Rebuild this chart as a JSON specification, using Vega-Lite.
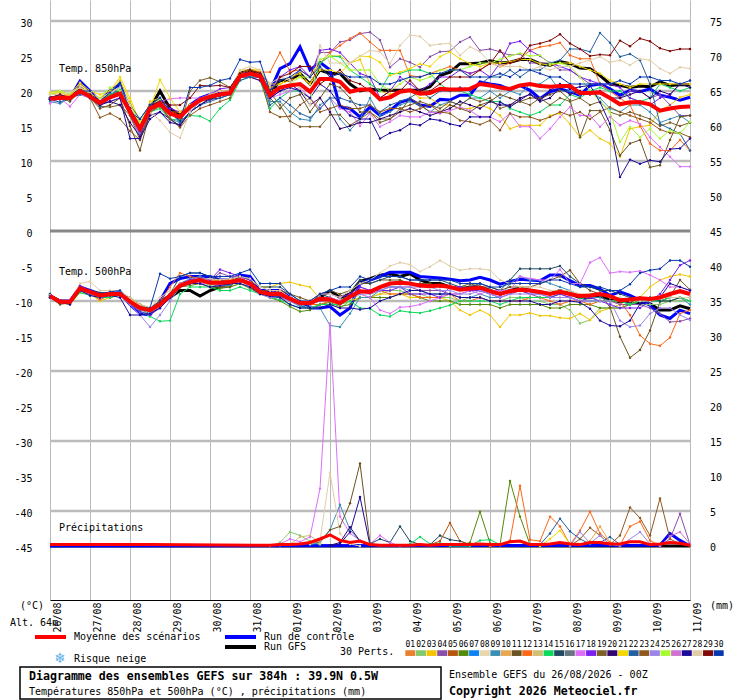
{"$schema":"https://vega.github.io/schema/vega-lite/v6.json","width":640,"height":600,"autosize":"none","padding":{"left":50,"top":0,"right":50,"bottom":100},"background":"white",
"config":{"view":{"stroke":null},"text":{"font":"DejaVu Sans Mono","fontSize":10,"align":"left","baseline":"middle","color":"black"},"axis":{"labelFont":"DejaVu Sans Mono","labelFontSize":10,"labelColor":"black"}},
"datasets":{
"t850":[
{"t":0,"03":19.5,"04":19,"09":18.5,"11":18.8,"12":19,"14":19,"17":18.2,"18":19,"19":19,"20":18.8,"21":19.8,"22":18.8,"23":19,"25":19.5,"27":18.8,"28":19.5,"29":19,"30":19,"ctl":19,"gfs":19,"moy":18.9},
{"t":6,"03":19.8,"04":19.3,"09":18.2,"11":19,"12":19.2,"14":19.2,"17":19,"18":19.5,"19":19.2,"20":19,"21":20,"22":18.4,"23":19.2,"25":20,"27":19,"28":19.5,"29":19.5,"30":18.8,"ctl":19,"gfs":19.2,"moy":19},
{"t":12,"03":19.2,"04":19,"09":19,"11":18.5,"12":19.5,"14":19,"17":17.8,"18":19,"19":19,"20":19,"21":19.5,"22":19,"23":19,"25":19.5,"27":18.8,"28":19.8,"29":19,"30":19,"ctl":19,"gfs":19,"moy":19},
{"t":18,"03":21,"04":20.5,"09":19.5,"11":20,"12":20.5,"14":20,"17":19.5,"18":20,"19":20,"20":20.5,"21":21.2,"22":19.5,"23":19.8,"25":20.5,"27":20,"28":20.5,"29":20,"30":20,"ctl":21.4,"gfs":20.5,"moy":20},
{"t":24,"03":19.8,"04":19,"09":19,"11":19,"12":19.8,"14":19.3,"17":19,"18":19.5,"19":19,"20":19.5,"21":20,"22":19.5,"23":19,"25":19.5,"27":19,"28":19.8,"29":19.5,"30":20,"ctl":20,"gfs":19.3,"moy":19.2},
{"t":30,"03":19,"04":18.5,"09":18,"11":17.5,"12":18.8,"14":18.5,"17":18,"18":18.5,"19":17.8,"20":18.2,"21":19.5,"22":17.8,"23":16.2,"25":19,"27":18,"28":18.8,"29":18.5,"30":18.5,"ctl":18.5,"gfs":18.5,"moy":18.3},
{"t":36,"03":19.8,"04":19.5,"09":19,"11":18,"12":19.5,"14":19.5,"17":18.5,"18":19,"19":17.7,"20":18.5,"21":20,"22":19,"23":16.8,"25":20.5,"27":18.5,"28":19.8,"29":19,"30":19.8,"ctl":20,"gfs":19.3,"moy":19.1},
{"t":42,"03":21.5,"04":20,"09":19.5,"11":19,"12":19.8,"14":20.2,"17":19,"18":19.5,"19":18,"20":18,"21":22,"22":20.8,"23":16,"25":20,"27":19,"28":20.5,"29":19.5,"30":21.2,"ctl":21,"gfs":20,"moy":19.6},
{"t":48,"03":18.5,"04":17.5,"09":16.5,"11":15,"12":18,"14":17,"17":17,"18":17.5,"19":16.5,"20":15.5,"21":19,"22":18,"23":14.3,"25":18,"27":13.2,"28":18,"29":17.5,"30":17,"ctl":17,"gfs":17,"moy":17},
{"t":54,"03":15,"04":14.5,"09":14,"11":11.5,"12":15,"14":15,"17":13.5,"18":14.5,"19":13,"20":13.5,"21":15.5,"22":16,"23":13,"25":15.5,"27":13.2,"28":15,"29":15,"30":16,"ctl":14,"gfs":14.3,"moy":14.6},
{"t":60,"03":18.5,"04":17.5,"09":17,"11":17,"12":17.5,"14":17,"17":17,"18":18,"19":17,"20":16.5,"21":17.5,"22":18,"23":17,"25":18,"27":16,"28":17,"29":18,"30":18,"ctl":17.5,"gfs":17.5,"moy":17.5},
{"t":66,"03":19,"04":18,"09":18,"11":18,"12":18.5,"14":17.5,"17":18.5,"18":19,"19":18,"20":17,"21":21.6,"22":19,"23":17.8,"25":18.8,"27":17,"28":15.8,"29":18.5,"30":19,"ctl":18.5,"gfs":20,"moy":18.2},
{"t":72,"03":17,"04":17,"09":16,"11":16.5,"12":17,"14":16,"17":18.9,"18":17.5,"19":16,"20":16,"21":19,"22":17,"23":16,"25":17,"27":15.5,"28":14.1,"29":18,"30":17,"ctl":17,"gfs":17.5,"moy":16.8},
{"t":78,"03":16.5,"04":16,"09":15.5,"11":16.5,"12":17,"14":15.8,"17":19,"18":17,"19":15,"20":15,"21":17,"22":15.5,"23":14.8,"25":16,"27":15.2,"28":13.3,"29":18,"30":15.8,"ctl":16,"gfs":16.5,"moy":16.3},
{"t":84,"03":18,"04":17.5,"09":17,"11":18,"12":18,"14":16.5,"17":19,"18":18,"19":20,"20":17,"21":18,"22":17,"23":16.5,"25":18,"27":17,"28":17,"29":19,"30":20.5,"ctl":18,"gfs":17.8,"moy":17.7},
{"t":90,"03":18.8,"04":18.5,"09":18.5,"11":18.5,"12":19,"14":16.4,"17":19,"18":19,"19":21.5,"20":18,"21":18.5,"22":18,"23":17.5,"25":18.8,"27":18,"28":18.8,"29":20.8,"30":20.5,"ctl":19,"gfs":18.7,"moy":18.7},
{"t":96,"03":19.5,"04":19,"09":19,"11":19,"12":19.5,"14":15.7,"17":19.5,"18":19.5,"19":21.9,"20":18.8,"21":19,"22":18.5,"23":18,"25":19,"27":19,"28":19.5,"29":20.7,"30":20.8,"ctl":19.5,"gfs":19,"moy":19.2},
{"t":102,"03":20,"04":19.5,"09":19.5,"11":19.3,"12":20,"14":17.5,"17":19.5,"18":20.3,"19":21.3,"20":19,"21":19.5,"22":19,"23":18.5,"25":19.5,"27":19.5,"28":20,"29":20.8,"30":21.5,"ctl":19.7,"gfs":19.5,"moy":19.5},
{"t":108,"03":20,"04":19.8,"09":19.5,"11":20,"12":20,"14":18.7,"17":20,"18":20.5,"19":20.5,"20":19.5,"21":19.5,"22":19.5,"23":19,"25":20,"27":19.8,"28":20,"29":20.5,"30":21.8,"ctl":20,"gfs":20,"moy":19.7},
{"t":114,"03":23,"04":22.5,"09":22,"11":22,"12":22.5,"14":21.5,"17":22,"18":22.5,"19":22.5,"20":22,"21":22.5,"22":21.5,"23":22,"25":22,"27":22,"28":23,"29":22.5,"30":24.5,"ctl":22.5,"gfs":22.5,"moy":22.1},
{"t":120,"03":23,"04":22.5,"09":22,"11":22.5,"12":23,"14":22,"17":22,"18":23,"19":23,"20":22,"21":23,"22":22,"23":22.5,"25":22.5,"27":22.5,"28":23.5,"29":23,"30":24.1,"ctl":22.5,"gfs":23,"moy":22.5},
{"t":126,"03":23,"04":22.5,"09":22,"11":22,"12":22.7,"14":21.5,"17":21.5,"18":22.5,"19":22.5,"20":21.5,"21":23,"22":22,"23":22,"25":22,"27":22,"28":23,"29":22.5,"30":24.2,"ctl":22,"gfs":22.5,"moy":22.1},
{"t":132,"03":20.5,"04":20,"09":18.5,"11":19,"12":22.7,"14":17.5,"17":19,"18":21,"19":19.8,"20":19,"21":21,"22":18,"23":17,"25":20,"27":19,"28":21,"29":19.5,"30":20,"ctl":20,"gfs":19.5,"moy":19.4},
{"t":138,"03":21,"04":22,"09":18.5,"11":17.5,"12":25.5,"14":19,"17":19.5,"18":22,"19":18,"20":20,"21":21,"22":19,"23":16.3,"25":20.5,"27":20,"28":22,"29":22,"30":21.5,"ctl":23.2,"gfs":21.5,"moy":20.5},
{"t":144,"03":21.5,"04":21.5,"09":17,"11":19,"12":22.8,"14":20,"17":20,"18":23,"19":15.7,"20":21,"21":22,"22":18,"23":16.4,"25":21,"27":20.5,"28":21.5,"29":22.5,"30":22,"ctl":23.9,"gfs":21.5,"moy":20.8},
{"t":150,"03":22,"04":23,"09":16,"11":19.5,"12":23,"14":20,"17":20.5,"18":23.5,"19":14.9,"20":20,"21":22.5,"22":16.8,"23":18,"25":22,"27":20,"28":20.5,"29":23.5,"30":23,"ctl":26.3,"gfs":22.5,"moy":21},
{"t":156,"03":21,"04":22,"09":15.8,"11":17,"12":22,"14":19,"17":19,"18":22,"19":14.9,"20":18,"21":21,"22":16.2,"23":19,"25":22,"27":19,"28":18,"29":23.5,"30":22,"ctl":23,"gfs":21,"moy":19.9},
{"t":162,"03":24,"04":25.5,"09":18,"11":19,"12":24,"14":24,"17":17.5,"18":25.8,"19":14.9,"20":19,"21":23,"22":17.5,"23":17,"25":24.5,"27":21,"28":26.5,"29":21,"30":23.5,"ctl":24.1,"gfs":23,"moy":21.7},
{"t":168,"03":25,"04":25.5,"09":19,"11":21,"12":25.5,"14":25,"17":19,"18":26,"19":16.6,"20":17,"21":23,"22":19,"23":17.5,"25":25,"27":20,"28":24,"29":22,"30":22,"ctl":23,"gfs":22.5,"moy":21.7},
{"t":174,"03":25,"04":27,"09":16,"11":20.5,"12":26.5,"14":24.9,"17":17.5,"18":25.5,"19":16.6,"20":14.6,"21":22.5,"22":19,"23":18,"25":24,"27":18,"28":24,"29":23,"30":22.5,"ctl":17.7,"gfs":22.5,"moy":21.3},
{"t":180,"03":24,"04":27.3,"09":14.4,"11":19,"12":27.5,"14":23,"17":17,"18":24,"19":15.1,"20":15,"21":24,"22":18.5,"23":17.5,"25":23,"27":16.5,"28":24,"29":21.5,"30":22,"ctl":17.5,"gfs":21,"moy":19.9},
{"t":186,"03":24.5,"04":28.2,"09":16,"11":17,"12":28.3,"14":22,"17":15,"18":22.5,"19":16,"20":15.5,"21":25,"22":18,"23":17.5,"25":23,"27":16,"28":25,"29":21,"30":22,"ctl":16.3,"gfs":20,"moy":20.2},
{"t":192,"03":21,"04":28.4,"09":19,"11":17,"12":27,"14":21,"17":16.8,"18":22,"19":17,"20":15.5,"21":24.9,"22":18,"23":18,"25":23,"27":16,"28":25.8,"29":20,"30":22,"ctl":17.7,"gfs":20.3,"moy":20.2},
{"t":198,"03":20,"04":27.3,"09":16.5,"11":15.5,"12":25.8,"14":20,"17":14.9,"18":19,"19":16,"20":16,"21":24.1,"22":17,"23":17,"25":21,"27":13.2,"28":25.6,"29":19,"30":21,"ctl":16.5,"gfs":20.1,"moy":18.8},
{"t":204,"03":19.5,"04":23.4,"09":17,"11":16,"12":25.8,"14":22.5,"17":15.6,"18":20,"19":16,"20":16.5,"21":22.2,"22":18,"23":17.5,"25":20,"27":14,"28":23.9,"29":20,"30":21,"ctl":17.2,"gfs":20.1,"moy":19.1},
{"t":210,"03":20,"04":24.6,"09":18,"11":17,"12":25.8,"14":22.5,"17":16.5,"18":22,"19":17.5,"20":17,"21":22.7,"22":18.5,"23":17.5,"25":21,"27":14.4,"28":26.5,"29":20,"30":21.5,"ctl":18.4,"gfs":20.1,"moy":19.9},
{"t":216,"03":20,"04":24.1,"09":18.5,"11":19,"12":22.2,"14":23,"17":16.3,"18":21,"19":18,"20":17.5,"21":23.2,"22":19,"23":17,"25":22,"27":15.3,"28":28,"29":21.5,"30":22,"ctl":18.8,"gfs":20.1,"moy":20.1},
{"t":222,"03":19,"04":23.4,"09":18,"11":18,"12":22,"14":23,"17":16.3,"18":20,"19":18.5,"20":17,"21":23.9,"22":20,"23":17.5,"25":21.5,"27":15.1,"28":27.8,"29":20,"30":22,"ctl":18,"gfs":20.1,"moy":19.6},
{"t":228,"03":19,"04":24.9,"09":17,"11":17,"12":22.5,"14":22.5,"17":17,"18":21,"19":18,"20":16.5,"21":23.5,"22":19,"23":18,"25":22,"27":16,"28":26.5,"29":20,"30":22.5,"ctl":17.8,"gfs":20.6,"moy":19.7},
{"t":234,"03":18,"04":25.6,"09":18,"11":17,"12":23,"14":21,"17":16.8,"18":22,"19":17.5,"20":17,"21":24.9,"22":20,"23":17,"25":23,"27":15.8,"28":26.7,"29":21,"30":22.5,"ctl":18.8,"gfs":22.2,"moy":20.3},
{"t":240,"03":18,"04":25.7,"09":18.5,"11":18,"12":23.5,"14":20,"17":17.2,"18":22,"19":18.5,"20":17.5,"21":25.6,"22":20,"23":16.8,"25":23,"27":15.3,"28":26.8,"29":22,"30":23,"ctl":18.7,"gfs":22.7,"moy":20.2},
{"t":246,"03":17.5,"04":27,"09":18,"11":17.5,"12":23,"14":20,"17":17.7,"18":23,"19":18,"20":18.5,"21":24.6,"22":20.5,"23":15.8,"25":23,"27":15,"28":25.1,"29":22,"30":23,"ctl":19.4,"gfs":23.9,"moy":20.2},
{"t":252,"03":17.5,"04":27.7,"09":19,"11":17,"12":22.5,"14":19.5,"17":17.2,"18":22.5,"19":19,"20":18,"21":23.9,"22":20,"23":15.6,"25":23.5,"27":16.3,"28":26.3,"29":22,"30":22,"ctl":19.4,"gfs":23.9,"moy":20.3},
{"t":258,"03":18,"04":25.8,"09":19,"11":18,"12":23,"14":19,"17":16.3,"18":23,"19":18.5,"20":17.5,"21":23.5,"22":21,"23":15.2,"25":24,"27":16.3,"28":25.6,"29":23,"30":22,"ctl":21.3,"gfs":24,"moy":21},
{"t":264,"03":17.5,"04":26,"09":20,"11":18.5,"12":24,"14":18.5,"17":16.3,"18":22,"19":19,"20":18.5,"21":24,"22":22,"23":15.8,"25":24,"27":16.3,"28":24,"29":23.9,"30":22,"ctl":21,"gfs":24.3,"moy":20.8},
{"t":270,"03":16.5,"04":25.6,"09":19,"11":19.5,"12":23.5,"14":18.5,"17":15.6,"18":24,"19":17.5,"20":18,"21":24,"22":22,"23":14.4,"25":24.5,"27":18.4,"28":23.5,"29":25.8,"30":22.5,"ctl":20.8,"gfs":24,"moy":20.5},
{"t":276,"03":14.6,"04":25.1,"09":20,"11":19,"12":24,"14":17.5,"17":16.8,"18":26.8,"19":18,"20":18,"21":24.2,"22":23,"23":16.8,"25":25,"27":17.7,"28":23.5,"29":24,"30":22,"ctl":20.2,"gfs":24.1,"moy":20.3},
{"t":282,"03":15.1,"04":25.3,"09":19.5,"11":18.5,"12":24.6,"14":17,"17":14.9,"18":27.1,"19":18.5,"20":19,"21":24.5,"22":22,"23":16.3,"25":25.4,"27":18.7,"28":23.5,"29":24.5,"30":23,"ctl":20.8,"gfs":24.5,"moy":20.8},
{"t":288,"03":15.1,"04":24,"09":21,"11":19,"12":25.8,"14":16.5,"17":14.9,"18":25.8,"19":18,"20":19.5,"21":24.5,"22":23,"23":16.3,"25":25,"27":19.6,"28":23,"29":26.5,"30":23,"ctl":20.1,"gfs":24.5,"moy":21},
{"t":294,"03":15.1,"04":24,"09":21,"11":19,"12":26.3,"14":17,"17":13.2,"18":25,"19":19,"20":18.5,"21":23.9,"22":23,"23":15.8,"25":25.1,"27":18.7,"28":23.5,"29":26.8,"30":22.5,"ctl":18.9,"gfs":23.9,"moy":20.7},
{"t":300,"03":16.5,"04":24,"09":22,"11":19.5,"12":26.5,"14":18,"17":14.6,"18":24,"19":18,"20":19,"21":23.7,"22":24,"23":16.3,"25":23.9,"27":20.1,"28":23,"29":27.2,"30":22,"ctl":19.9,"gfs":23.7,"moy":20.6},
{"t":306,"03":16.8,"04":23,"09":20,"11":20,"12":26.9,"14":18,"17":16.3,"18":23.5,"19":19,"20":20.5,"21":24,"22":24.4,"23":17,"25":24,"27":21,"28":23.5,"29":28.1,"30":22,"ctl":20.3,"gfs":24.2,"moy":20.7},
{"t":312,"03":15.3,"04":23,"09":20,"11":18.7,"12":25.1,"14":19.5,"17":17.7,"18":23,"19":18.5,"20":19.5,"21":24,"22":26,"23":16.5,"25":23.5,"27":20.3,"28":23.5,"29":26.8,"30":21,"ctl":19.9,"gfs":23.9,"moy":20.7},
{"t":318,"03":13.4,"04":22,"09":19.5,"11":13.4,"12":24.6,"14":19,"17":16.5,"18":22,"19":19,"20":20,"21":23.5,"22":26,"23":17,"25":22,"27":20.6,"28":24,"29":26,"30":21,"ctl":19.4,"gfs":23.3,"moy":19.7},
{"t":324,"03":14.4,"04":21,"09":20,"11":17.2,"12":24.6,"14":20,"17":16.5,"18":21.5,"19":18,"20":19.5,"21":23,"22":25.6,"23":16,"25":20,"27":20.8,"28":24.4,"29":25,"30":21,"ctl":20.8,"gfs":23.2,"moy":19.7},
{"t":330,"03":13.2,"04":21,"09":19,"11":17.2,"12":21,"14":20.5,"17":14.9,"18":21,"19":18.5,"20":20,"21":22.5,"22":28.3,"23":17,"25":18.5,"27":18.4,"28":24.9,"29":25.2,"30":21,"ctl":21,"gfs":22.2,"moy":19.8},
{"t":336,"03":12.5,"04":20,"09":17.5,"11":14.4,"12":20,"14":20,"17":16.3,"18":21,"19":17,"20":19,"21":21.5,"22":26.9,"23":17.7,"25":17,"27":15.3,"28":24.1,"29":25.1,"30":21,"ctl":20.3,"gfs":21,"moy":19},
{"t":342,"03":10.6,"04":19,"09":17,"11":10.8,"12":19,"14":20,"17":15.1,"18":20.5,"19":16.5,"20":19,"21":21,"22":24.9,"23":17,"25":12.7,"27":7.7,"28":24.4,"29":27.2,"30":21.5,"ctl":19.4,"gfs":20.8,"moy":18.1},
{"t":348,"03":14.6,"04":20,"09":18,"11":12.5,"12":18,"14":19,"17":15.8,"18":19,"19":17,"20":19.5,"21":20.5,"22":25.3,"23":16.5,"25":14.9,"27":10.2,"28":23.7,"29":26.4,"30":21,"ctl":20.1,"gfs":20.5,"moy":18.4},
{"t":354,"03":14.9,"04":20,"09":18,"11":13,"12":15,"14":18.5,"17":15.3,"18":18.5,"19":16.5,"20":20,"21":21,"22":24.4,"23":16,"25":13.4,"27":9.6,"28":24.6,"29":27.5,"30":22,"ctl":19.9,"gfs":20.7,"moy":18.4},
{"t":360,"03":15.1,"04":19,"09":17,"11":9.1,"12":12.5,"14":19,"17":13.4,"18":18,"19":16,"20":19,"21":21,"22":21,"23":15.5,"25":14.6,"27":10.1,"28":24.4,"29":27.1,"30":22,"ctl":20.3,"gfs":20.6,"moy":18.1},
{"t":366,"03":17.2,"04":19.5,"09":15.5,"11":9.4,"12":11.5,"14":21,"17":12,"18":19,"19":15,"20":20,"21":21,"22":15.3,"23":14.5,"25":13.2,"27":9.9,"28":23.2,"29":26.1,"30":21.5,"ctl":19.4,"gfs":21.3,"moy":17.2},
{"t":372,"03":18,"04":18,"09":16,"11":13,"12":11.5,"14":20.5,"17":10.6,"18":19.5,"19":15.5,"20":19.5,"21":21,"22":14.6,"23":14,"25":14.4,"27":11.7,"28":22.5,"29":25.7,"30":21.5,"ctl":19.1,"gfs":20.8,"moy":17.5},
{"t":378,"03":19.1,"04":16.5,"09":16.5,"11":16.3,"12":13,"14":20,"17":9.2,"18":21,"19":15,"20":21,"21":21,"22":13.9,"23":14,"25":13.9,"27":11.8,"28":23.4,"29":26,"30":21,"ctl":18.7,"gfs":20.9,"moy":17.7},
{"t":384,"03":19.5,"04":16.5,"09":15.5,"11":16.5,"12":11.5,"14":20.5,"17":9.2,"18":21,"19":15.5,"20":20.5,"21":21,"22":11.5,"23":13.4,"25":15.6,"27":13.2,"28":23.2,"29":26,"30":21.5,"ctl":19.1,"gfs":20.9,"moy":17.8}
],
"t500":[
{"t":0,"02":-9.2,"03":-9.5,"04":-9.5,"06":-9,"09":-9,"11":-9.5,"12":-9.2,"14":-9.5,"15":-9,"17":-9.2,"18":-9.5,"24":-9.3,"27":-9.5,"28":-9.2,"30":-9.3,"ctl":-9.3,"gfs":-9.3,"moy":-9.3},
{"t":6,"02":-10,"03":-10.3,"04":-10,"06":-10.2,"09":-10,"11":-10.5,"12":-10,"14":-10.2,"15":-10,"17":-10,"18":-10,"24":-10,"27":-10.2,"28":-10,"30":-10,"ctl":-10,"gfs":-10,"moy":-10.1},
{"t":12,"02":-10.2,"03":-10.5,"04":-10,"06":-10.3,"09":-10.2,"11":-10.2,"12":-10,"14":-10.3,"15":-10,"17":-10.2,"18":-10,"24":-10.2,"27":-10.5,"28":-10,"30":-10,"ctl":-10,"gfs":-10.2,"moy":-10.1},
{"t":18,"02":-8.5,"03":-8.8,"04":-8,"06":-8.5,"09":-8.5,"11":-8.5,"12":-8.2,"14":-8.8,"15":-8,"17":-8.5,"18":-7.8,"24":-8.5,"27":-8.5,"28":-7.5,"30":-8,"ctl":-8,"gfs":-8.3,"moy":-8.2},
{"t":24,"02":-8.8,"03":-9,"04":-8.8,"06":-9,"09":-9,"11":-9,"12":-9,"14":-9.2,"15":-8.5,"17":-9,"18":-8.5,"24":-9,"27":-9.2,"28":-7.2,"30":-8.5,"ctl":-8.5,"gfs":-8.8,"moy":-8.7},
{"t":30,"02":-9.5,"03":-10,"04":-9,"06":-9.5,"09":-9.5,"11":-9.5,"12":-9.8,"14":-9.5,"15":-8.8,"17":-9.5,"18":-9.5,"24":-9.2,"27":-9.5,"28":-8.5,"30":-9,"ctl":-9,"gfs":-9.2,"moy":-9.2},
{"t":36,"02":-9,"03":-9.5,"04":-9,"06":-9.2,"09":-9,"11":-9.5,"12":-9.2,"14":-9.5,"15":-8.8,"17":-9.2,"18":-9,"24":-9,"27":-9.2,"28":-8.5,"30":-8.7,"ctl":-9,"gfs":-9,"moy":-9},
{"t":42,"02":-9.2,"03":-9.2,"04":-9,"06":-9,"09":-9,"11":-9,"12":-9.2,"14":-9.2,"15":-8.8,"17":-9,"18":-9,"24":-9.2,"27":-9.5,"28":-8.5,"30":-8.5,"ctl":-8.8,"gfs":-9,"moy":-9},
{"t":48,"02":-10.5,"03":-9.8,"04":-10,"06":-10,"09":-10.5,"11":-9.5,"12":-10.2,"14":-10.2,"15":-10,"17":-10,"18":-10.5,"24":-10.5,"27":-12,"28":-9.5,"30":-10,"ctl":-10.5,"gfs":-10.2,"moy":-10.1},
{"t":54,"02":-11.5,"03":-10.5,"04":-11,"06":-11,"09":-11.2,"11":-10.5,"12":-11,"14":-11.5,"15":-10.8,"17":-11,"18":-11.5,"24":-12,"27":-12,"28":-10.5,"30":-11,"ctl":-11.8,"gfs":-11,"moy":-11},
{"t":60,"02":-11.8,"03":-11,"04":-11.5,"06":-11.5,"09":-11.8,"11":-11,"12":-11,"14":-12.2,"15":-11,"17":-11.5,"18":-12,"24":-13.7,"27":-11.8,"28":-11,"30":-11,"ctl":-12,"gfs":-11.3,"moy":-11.3},
{"t":66,"02":-11,"03":-10,"04":-10,"06":-11,"09":-10.5,"11":-10.5,"12":-10,"14":-12.9,"15":-10,"17":-11,"18":-11,"24":-12,"27":-11,"28":-9.5,"30":-6.1,"ctl":-10,"gfs":-10.3,"moy":-10.5},
{"t":72,"02":-9.5,"03":-9,"04":-9,"06":-9.5,"09":-9,"11":-9,"12":-8,"14":-12.8,"15":-9,"17":-9.5,"18":-9.5,"24":-10,"27":-9.5,"28":-8.5,"30":-6.8,"ctl":-7.5,"gfs":-9.5,"moy":-9.2},
{"t":78,"02":-8,"03":-7.5,"04":-7.8,"06":-8,"09":-7.5,"11":-8,"12":-6,"14":-9,"15":-6.5,"17":-8,"18":-7.5,"24":-8,"27":-8,"28":-7.5,"30":-6.5,"ctl":-6.8,"gfs":-8.5,"moy":-7.8},
{"t":84,"02":-7.5,"03":-7.2,"04":-7,"06":-7.8,"09":-6.8,"11":-7.5,"12":-6.5,"14":-8,"15":-6,"17":-7.5,"18":-7,"24":-7.5,"27":-7.5,"28":-7.2,"30":-6,"ctl":-6.5,"gfs":-8.5,"moy":-7.3},
{"t":90,"02":-7.2,"03":-6.8,"04":-6.5,"06":-7.5,"09":-6.5,"11":-7.5,"12":-6.8,"14":-8,"15":-6,"17":-7.5,"18":-6.8,"24":-7.2,"27":-7.5,"28":-7,"30":-6,"ctl":-6.5,"gfs":-9.3,"moy":-7},
{"t":96,"02":-7.8,"03":-7.2,"04":-7,"06":-8,"09":-7,"11":-7.5,"12":-7,"14":-8,"15":-6.5,"17":-7.5,"18":-7,"24":-7.5,"27":-8,"28":-6.8,"30":-6.5,"ctl":-6.5,"gfs":-8.5,"moy":-7.4},
{"t":102,"02":-8,"03":-7,"04":-6,"06":-8.2,"09":-7.8,"11":-8,"12":-7,"14":-8.5,"15":-7,"17":-7.8,"18":-5.5,"24":-7.5,"27":-7.8,"28":-7,"30":-6.5,"ctl":-7,"gfs":-8,"moy":-7.4},
{"t":108,"02":-8,"03":-7,"04":-6.5,"06":-8,"09":-7.8,"11":-8,"12":-7,"14":-8.5,"15":-7.5,"17":-7.5,"18":-6,"24":-7.5,"27":-7.5,"28":-6.8,"30":-6.5,"ctl":-7,"gfs":-7.5,"moy":-7.3},
{"t":114,"02":-7.5,"03":-6.5,"04":-6.5,"06":-7.5,"09":-7,"11":-6.5,"12":-7,"14":-8,"15":-6.5,"17":-7,"18":-6.5,"24":-7.2,"27":-7.5,"28":-6.5,"30":-6,"ctl":-6.3,"gfs":-7,"moy":-7},
{"t":120,"02":-8,"03":-7,"04":-7.5,"06":-8.2,"09":-8,"11":-7,"12":-7.5,"14":-8.5,"15":-6.8,"17":-8,"18":-7,"24":-7.5,"27":-8,"28":-6.8,"30":-5.5,"ctl":-6.5,"gfs":-7.5,"moy":-7.5},
{"t":126,"02":-8.5,"03":-8,"04":-8.5,"06":-9,"09":-9,"11":-8.5,"12":-8.5,"14":-9,"15":-8,"17":-9,"18":-8.5,"24":-8.5,"27":-9,"28":-8,"30":-7.5,"ctl":-8.5,"gfs":-8.5,"moy":-8.7},
{"t":132,"02":-9.5,"03":-8,"04":-8.5,"06":-9.5,"09":-9.5,"11":-8.5,"12":-9,"14":-9.5,"15":-8,"17":-9.5,"18":-9,"24":-9.5,"27":-9.3,"28":-8.5,"30":-7.5,"ctl":-8.5,"gfs":-9,"moy":-9},
{"t":138,"02":-9.5,"03":-7.5,"04":-9,"06":-10,"09":-9.5,"11":-8.5,"12":-8.5,"14":-9.8,"15":-8,"17":-9.5,"18":-9,"24":-9.5,"27":-9.5,"28":-8.5,"30":-7.5,"ctl":-8.5,"gfs":-9.2,"moy":-9},
{"t":144,"02":-10,"03":-7.3,"04":-10,"06":-10.8,"09":-10,"11":-9,"12":-9.5,"14":-10.5,"15":-9,"17":-10,"18":-10,"24":-10,"27":-10.5,"28":-9.5,"30":-9,"ctl":-9.5,"gfs":-9.7,"moy":-9.7},
{"t":150,"02":-10.5,"03":-7.7,"04":-10.5,"06":-11.5,"09":-10.8,"11":-9.5,"12":-10,"14":-11,"15":-10,"17":-10.5,"18":-10.5,"24":-10.5,"27":-11,"28":-10,"30":-10,"ctl":-10.5,"gfs":-10.3,"moy":-10.3},
{"t":156,"02":-11,"03":-8,"04":-10.5,"06":-11.3,"09":-11,"11":-10,"12":-10.5,"14":-11,"15":-10.5,"17":-10.5,"18":-10,"24":-10.5,"27":-11,"28":-10,"30":-10,"ctl":-11,"gfs":-10.5,"moy":-10.3},
{"t":162,"02":-10.5,"03":-9.7,"04":-10,"06":-10.5,"09":-11,"11":-9,"12":-10.5,"14":-10.5,"15":-9,"17":-9.5,"18":-9,"24":-9.5,"27":-11,"28":-9,"30":-9,"ctl":-11,"gfs":-9.5,"moy":-9.7},
{"t":168,"02":-10.5,"03":-10,"04":-10,"06":-10.2,"09":-13.5,"11":-8.5,"12":-10,"14":-10.5,"15":-9.5,"17":-9.5,"18":-9,"24":-10,"27":-10.5,"28":-9,"30":-8.5,"ctl":-10.8,"gfs":-8.5,"moy":-9.8},
{"t":174,"02":-11,"03":-10.5,"04":-10.5,"06":-10.8,"09":-13.7,"11":-9,"12":-10,"14":-10.5,"15":-10,"17":-10,"18":-9.5,"24":-10.5,"27":-11,"28":-9.5,"30":-8,"ctl":-12,"gfs":-9.5,"moy":-10.3},
{"t":180,"02":-10,"03":-10,"04":-9.5,"06":-10.5,"09":-11.8,"11":-8.5,"12":-9.5,"14":-10,"15":-9,"17":-9.5,"18":-9,"24":-9.5,"27":-11,"28":-8.5,"30":-8,"ctl":-11,"gfs":-9,"moy":-9.4},
{"t":186,"02":-9,"03":-9.5,"04":-8,"06":-9.5,"09":-9.5,"11":-7.5,"12":-8.5,"14":-11,"15":-7,"17":-9,"18":-8,"24":-9,"27":-11.2,"28":-7.5,"30":-6.5,"ctl":-7.5,"gfs":-7.2,"moy":-8.6},
{"t":192,"02":-9.5,"03":-9.5,"04":-8.5,"06":-9.5,"09":-9.5,"11":-7.5,"12":-9,"14":-11.1,"15":-7.5,"17":-9.5,"18":-8.5,"24":-9,"27":-11,"28":-7,"30":-7,"ctl":-7,"gfs":-6.8,"moy":-8.7},
{"t":198,"02":-9,"03":-9,"04":-8,"06":-9.5,"09":-8.5,"11":-7,"12":-8.5,"14":-12,"15":-7,"17":-11.3,"18":-8.5,"24":-8.5,"27":-10,"28":-6,"30":-6.5,"ctl":-6.5,"gfs":-6.3,"moy":-8},
{"t":204,"02":-8.5,"03":-9,"04":-8,"06":-9.5,"09":-8,"11":-7,"12":-9,"14":-12.2,"15":-6.5,"17":-11.8,"18":-8.5,"24":-8,"27":-9.5,"28":-5,"30":-6.5,"ctl":-5.9,"gfs":-6.1,"moy":-7.5},
{"t":210,"02":-8.5,"03":-9,"04":-8,"06":-9,"09":-8,"11":-7,"12":-9,"14":-11.4,"15":-6.5,"17":-10.9,"18":-8,"24":-8,"27":-9,"28":-4.5,"30":-6.5,"ctl":-5.9,"gfs":-6.5,"moy":-7.4},
{"t":216,"02":-9,"03":-9.5,"04":-8,"06":-9,"09":-8.5,"11":-7.5,"12":-9,"14":-11.6,"15":-7,"17":-10.8,"18":-9,"24":-8,"27":-8.5,"28":-4.8,"30":-7,"ctl":-5.9,"gfs":-6.1,"moy":-7.5},
{"t":222,"02":-9,"03":-9.5,"04":-8.5,"06":-9.5,"09":-8.5,"11":-7.5,"12":-9.5,"14":-11.7,"15":-7,"17":-10.5,"18":-9,"24":-8,"27":-8.5,"28":-5.8,"30":-7,"ctl":-6.5,"gfs":-7,"moy":-7.8},
{"t":228,"02":-9.5,"03":-9.5,"04":-8.5,"06":-10,"09":-9,"11":-7.5,"12":-9.5,"14":-11.4,"15":-7,"17":-10,"18":-9,"24":-8,"27":-9,"28":-5.1,"30":-7,"ctl":-6.6,"gfs":-7.5,"moy":-7.9},
{"t":234,"02":-9.5,"03":-9.5,"04":-8.5,"06":-10,"09":-9,"11":-8,"12":-9.5,"14":-11,"15":-7,"17":-9.5,"18":-9.5,"24":-8.5,"27":-9,"28":-4.2,"30":-7,"ctl":-6.7,"gfs":-7.5,"moy":-7.8},
{"t":240,"02":-9.5,"03":-10,"04":-9,"06":-10,"09":-9,"11":-8,"12":-9,"14":-10.6,"15":-7.5,"17":-9,"18":-8,"24":-8.5,"27":-9,"28":-5,"30":-7,"ctl":-6.9,"gfs":-8,"moy":-8},
{"t":246,"02":-10,"03":-11.3,"04":-9,"06":-10.5,"09":-9.5,"11":-8,"12":-10,"14":-10,"15":-8,"17":-9,"18":-8,"24":-9,"27":-9.5,"28":-5.6,"30":-7.5,"ctl":-7.1,"gfs":-8.3,"moy":-8.4},
{"t":252,"02":-9.5,"03":-12,"04":-8.5,"06":-10.5,"09":-9.5,"11":-7.5,"12":-10,"14":-10,"15":-8,"17":-8.5,"18":-8.5,"24":-9,"27":-9.5,"28":-5.4,"30":-7.5,"ctl":-7,"gfs":-8,"moy":-8.2},
{"t":258,"02":-9.5,"03":-11.3,"04":-8.5,"06":-10.5,"09":-9,"11":-8,"12":-9.5,"14":-10,"15":-7.5,"17":-9,"18":-8.5,"24":-8.5,"27":-9.5,"28":-5.4,"30":-7.5,"ctl":-6.6,"gfs":-8,"moy":-8.1},
{"t":264,"02":-10,"03":-12,"04":-9,"06":-10.5,"09":-9.5,"11":-8,"12":-10,"14":-10,"15":-8,"17":-8.5,"18":-9,"24":-9,"27":-10,"28":-5.6,"30":-8,"ctl":-7,"gfs":-8.5,"moy":-8.6},
{"t":270,"02":-10,"03":-13.7,"04":-9,"06":-11,"09":-9.5,"11":-8.5,"12":-10,"14":-10.5,"15":-8.5,"17":-8.5,"18":-9.5,"24":-9.5,"27":-10,"28":-7,"30":-8,"ctl":-7.6,"gfs":-9,"moy":-9},
{"t":276,"02":-9.5,"03":-12,"04":-8.5,"06":-10.5,"09":-7.5,"11":-8,"12":-10,"14":-10,"15":-7,"17":-8.5,"18":-9,"24":-9,"27":-10,"28":-7.5,"30":-7.5,"ctl":-7.2,"gfs":-8.5,"moy":-8.6},
{"t":282,"02":-9.5,"03":-12,"04":-8.5,"06":-10.5,"09":-6.5,"11":-8,"12":-10,"14":-9.5,"15":-5.4,"17":-6.5,"18":-8.5,"24":-9,"27":-10,"28":-8,"30":-7.5,"ctl":-6.9,"gfs":-8.2,"moy":-8.4},
{"t":288,"02":-10,"03":-11.7,"04":-9,"06":-10.5,"09":-7,"11":-8,"12":-9.5,"14":-9.5,"15":-5.4,"17":-6.8,"18":-9,"24":-9,"27":-10,"28":-8,"30":-7.5,"ctl":-7,"gfs":-8.5,"moy":-8.5},
{"t":294,"02":-10,"03":-12.1,"04":-9.5,"06":-10.5,"09":-7,"11":-7.5,"12":-9.5,"14":-9.5,"15":-5.4,"17":-7,"18":-9,"24":-9,"27":-10.5,"28":-8,"30":-7.5,"ctl":-7.1,"gfs":-8.7,"moy":-8.7},
{"t":300,"02":-10.5,"03":-12.1,"04":-9.5,"06":-11,"09":-7.5,"11":-7,"12":-10,"14":-9.5,"15":-5.4,"17":-7,"18":-9.5,"24":-9.5,"27":-10.5,"28":-8.5,"30":-7,"ctl":-6.3,"gfs":-9,"moy":-9},
{"t":306,"02":-10.5,"03":-12.4,"04":-9,"06":-11,"09":-8,"11":-6.5,"12":-10.5,"14":-9,"15":-5,"17":-5.5,"18":-9,"24":-9.5,"27":-10,"28":-8.5,"30":-7,"ctl":-6.3,"gfs":-8.5,"moy":-8.7},
{"t":312,"02":-11.3,"03":-12.5,"04":-9.5,"06":-10.5,"09":-8.5,"11":-5.6,"12":-10,"14":-9,"15":-6.5,"17":-7.5,"18":-9.5,"24":-9.5,"27":-10,"28":-8.5,"30":-7.5,"ctl":-7.1,"gfs":-9,"moy":-9},
{"t":318,"02":-13.2,"03":-11.8,"04":-10,"06":-10.5,"09":-9.5,"11":-7.5,"12":-10,"14":-9.5,"15":-7.5,"17":-7.5,"18":-10,"24":-10,"27":-10.2,"28":-9,"30":-8,"ctl":-7.8,"gfs":-9.5,"moy":-9.3},
{"t":324,"02":-12.7,"03":-12.7,"04":-10,"06":-10.5,"09":-9.5,"11":-8.5,"12":-10.5,"14":-10,"15":-8,"17":-4.5,"18":-9.5,"24":-10,"27":-11.1,"28":-9,"30":-8,"ctl":-7.8,"gfs":-9.5,"moy":-9.2},
{"t":330,"02":-11,"03":-11.5,"04":-10,"06":-11,"09":-9.5,"11":-9,"12":-10,"14":-10,"15":-8.5,"17":-3.8,"18":-10,"24":-10,"27":-12.8,"28":-9,"30":-8,"ctl":-8.3,"gfs":-9.3,"moy":-9},
{"t":336,"02":-11,"03":-11,"04":-10,"06":-11,"09":-10,"11":-10.9,"12":-10,"14":-10,"15":-8.5,"17":-6,"18":-10.5,"24":-10,"27":-13.5,"28":-9.5,"30":-8.5,"ctl":-9.2,"gfs":-9.8,"moy":-9.3},
{"t":342,"02":-11,"03":-10.5,"04":-10.5,"06":-11,"09":-10,"11":-15.1,"12":-10,"14":-10,"15":-9,"17":-5.8,"18":-11,"24":-12.8,"27":-13.6,"28":-9.5,"30":-8.5,"ctl":-8.7,"gfs":-10.1,"moy":-9.9},
{"t":348,"02":-10.5,"03":-10.5,"04":-10.5,"06":-10.5,"09":-10.5,"11":-18.1,"12":-12,"14":-10.5,"15":-9.5,"17":-5.9,"18":-11,"24":-13.7,"27":-12.8,"28":-10,"30":-7.6,"ctl":-9.2,"gfs":-10,"moy":-9.8},
{"t":354,"02":-10.5,"03":-9.5,"04":-10.5,"06":-10,"09":-10,"11":-17,"12":-14.9,"14":-10,"15":-9.5,"17":-5.7,"18":-11,"24":-13.5,"27":-10.4,"28":-10,"30":-6,"ctl":-9.9,"gfs":-10.3,"moy":-9.6},
{"t":360,"02":-10.5,"03":-8,"04":-11,"06":-10,"09":-10,"11":-14.2,"12":-16.1,"14":-10,"15":-9.5,"17":-6.3,"18":-10,"24":-11.8,"27":-10,"28":-10,"30":-5.6,"ctl":-10.6,"gfs":-10.4,"moy":-9.7},
{"t":366,"02":-10.5,"03":-7,"04":-11.8,"06":-10,"09":-10,"11":-10.1,"12":-16.4,"14":-10,"15":-10,"17":-7,"18":-9,"24":-11,"27":-9.5,"28":-9.5,"30":-5.4,"ctl":-12,"gfs":-11.3,"moy":-9.5},
{"t":372,"02":-10,"03":-6.5,"04":-13,"06":-10,"09":-9.5,"11":-9.4,"12":-15.2,"14":-9.5,"15":-10,"17":-8,"18":-7,"24":-11,"27":-7.5,"28":-9.5,"30":-4.2,"ctl":-12.5,"gfs":-11.3,"moy":-9},
{"t":378,"02":-10,"03":-6.2,"04":-12.9,"06":-9.5,"09":-9.5,"11":-7,"12":-11.8,"14":-9.5,"15":-9.5,"17":-8,"18":-4.9,"24":-12,"27":-8,"28":-9.5,"30":-4.2,"ctl":-11.3,"gfs":-10.7,"moy":-8.6},
{"t":384,"02":-10,"03":-6.5,"04":-12.5,"06":-10,"09":-10.5,"11":-8.4,"12":-11.3,"14":-10,"15":-9.5,"17":-8.5,"18":-4.2,"24":-12.7,"27":-8.5,"28":-9.5,"30":-5.1,"ctl":-11.8,"gfs":-11.1,"moy":-9}
],
"prec":[
{"t":0,"moy":-44.8,"ctl":-45,"gfs":-45},{"t":60,"moy":-44.8},{"t":126,"moy":-44.9},
{"t":132,"02":-45,"moy":-44.9},
{"t":138,"02":-44.5,"13":-44.9,"17":-44.7,"moy":-44.8},
{"t":144,"02":-43,"13":-44.8,"17":-44,"moy":-44.8},
{"t":150,"02":-43.5,"13":-43.7,"17":-44.4,"moy":-44.7},
{"t":156,"02":-44.3,"09":-44.8,"11":-44.6,"13":-43.5,"17":-43.7,"28":-44.7,"moy":-44.5},
{"t":162,"02":-44.8,"09":-44.5,"11":-44.4,"13":-44.6,"17":-36.8,"28":-44.2,"moy":-44},
{"t":168,"09":-42.7,"11":-42.7,"17":-13.2,"20":-44.9,"27":-45,"28":-34.5,"moy":-43.4},
{"t":174,"09":-39.1,"11":-42.2,"17":-40.8,"20":-44.5,"27":-44.7,"28":-43.2,"moy":-44.2},
{"t":180,"09":-42.7,"11":-38.9,"17":-43.2,"20":-42.3,"27":-43,"28":-44.7,"moy":-44.5},
{"t":186,"09":-44.3,"11":-33.2,"17":-44.2,"20":-44.3,"27":-38,"28":-45,"moy":-44.3},
{"t":192,"09":-45,"11":-44.6,"15":-44.7,"17":-44.7,"20":-45,"27":-44.9,"moy":-44.8},
{"t":198,"11":-45,"15":-44,"17":-43.5,"moy":-44.9},
{"t":204,"15":-44.5,"17":-44.5,"moy":-44.9},
{"t":210,"15":-42.2,"17":-45,"moy":-44.9},
{"t":216,"14":-44.7,"15":-44.3,"moy":-44.9},
{"t":222,"14":-43.7,"15":-44.8,"moy":-44.8},
{"t":228,"05":-44.8,"14":-44.7,"15":-44.8,"moy":-44.9},
{"t":234,"05":-44.3,"14":-44.6,"15":-43.5,"moy":-44.8},
{"t":240,"05":-41.7,"14":-45,"15":-44.1,"moy":-44.8},
{"t":246,"05":-44.3,"06":-44.9,"15":-44.3,"moy":-44.8},
{"t":252,"05":-44.8,"06":-44.5,"14":-45,"15":-44.8,"moy":-44.8},
{"t":258,"06":-40.1,"14":-44.2,"moy":-44.7},
{"t":264,"06":-44.6,"12":-45,"14":-44.1,"moy":-44.8},
{"t":270,"06":-44.8,"12":-44.9,"14":-44.8,"moy":-44.8},
{"t":276,"06":-35.7,"12":-44.2,"moy":-44.4},
{"t":282,"06":-40.8,"12":-36.4,"moy":-44.3},
{"t":288,"06":-44.8,"12":-44.1,"moy":-44.8},
{"t":294,"12":-44.3,"21":-45,"22":-44.8,"moy":-44.8},
{"t":300,"12":-40.8,"21":-44,"22":-43.2,"moy":-44.7},
{"t":306,"12":-42.2,"21":-42.8,"22":-41.1,"moy":-44.5},
{"t":312,"12":-44.8,"21":-44.7,"22":-42.9,"23":-45,"24":-45,"moy":-44.7},
{"t":318,"10":-44.8,"12":-42.8,"22":-44,"23":-44,"24":-43,"moy":-44.8},
{"t":324,"10":-44.3,"12":-40.1,"22":-44.7,"23":-42.4,"24":-44.6,"moy":-44.5},
{"t":330,"10":-42.2,"12":-43.2,"22":-44.5,"23":-43.5,"24":-43.5,"moy":-44.5},
{"t":336,"10":-44.5,"12":-44.5,"22":-43.7,"23":-44.8,"24":-44.8,"moy":-44.7},
{"t":342,"12":-44.9,"22":-44.8,"23":-43.5,"24":-45,"moy":-44.7},
{"t":348,"12":-42.2,"23":-39.5,"moy":-44.4},
{"t":354,"12":-41.5,"23":-41,"24":-43,"moy":-44.4},
{"t":360,"12":-44.2,"23":-43.5,"24":-44.7,"moy":-44.8},
{"t":366,"04":-45,"12":-45,"23":-38.2,"26":-45,"moy":-44.7,"ctl":-44.9,"gfs":-45},
{"t":372,"04":-44,"23":-44,"26":-43.6,"moy":-44.5,"ctl":-43.2,"gfs":-45},
{"t":378,"04":-40.4,"23":-44.7,"26":-43,"moy":-44.6,"ctl":-44.2,"gfs":-45},
{"t":384,"04":-44.8,"23":-45,"26":-44.7,"moy":-44.9,"ctl":-45,"gfs":-45}
]
},
"data":{"values":[{}]},
"layer":[
{"data":{"values":[{"v":25},{"v":15},{"v":5},{"v":-5},{"v":-15},{"v":-25},{"v":-35},{"v":-45}]},"mark":{"type":"rule","color":"#bbb","strokeWidth":1},
"encoding":{"x":{"field":"t","type":"quantitative","scale":{"domain":[0,384],"nice":false,"zero":false},"axis":{"title":null,"values":[0,24,48,72,96,120,144,168,192,216,240,264,288,312,336,360,384],"tickCount":100,"labelExpr":"['26/08','27/08','28/08','29/08','30/08','31/08','01/09','02/09','03/09','04/09','05/09','06/09','07/09','08/09','09/09','10/09','11/09'][datum.value/24]","labelAngle":-90,"labelAlign":"right","labelBaseline":"middle","labelOffset":7,"labelPadding":2,"ticks":false,"domainColor":"black","grid":true,"gridColor":"#bbb","labelOverlap":false,"labelBound":false,"labelFlush":false}},
"y":{"field":"v","type":"quantitative","scale":{"domain":[-52.714,33],"nice":false,"zero":false},"axis":{"title":null,"values":[30,25,20,15,10,5,0,-5,-10,-15,-20,-25,-30,-35,-40,-45],"tickCount":100,"labelExpr":"''+datum.value","ticks":false,"domain":false,"grid":false,"labelPadding":18,"labelOffset":2,"labelOverlap":false}}}},
{"data":{"values":[{"v":30},{"v":20},{"v":10},{"v":-10},{"v":-20},{"v":-30},{"v":-40}]},"mark":{"type":"rule","color":"#bbb","strokeWidth":2.5},"encoding":{"y":{"field":"v","type":"quantitative"}}},
{"data":{"values":[{"v":0}]},"mark":{"type":"rule","color":"#888","strokeWidth":3},"encoding":{"y":{"field":"v","type":"quantitative"}}},
{"data":{"values":[{"v":30,"r":"75"},{"v":25,"r":"70"},{"v":20,"r":"65"},{"v":15,"r":"60"},{"v":10,"r":"55"},{"v":5,"r":"50"},{"v":0,"r":"45"},{"v":-5,"r":"40"},{"v":-10,"r":"35"},{"v":-15,"r":"30"},{"v":-20,"r":"25"},{"v":-25,"r":"20"},{"v":-30,"r":"15"},{"v":-35,"r":"10"},{"v":-40,"r":"5"},{"v":-45,"r":"0"}]},"mark":{"type":"text","dx":20,"dy":2},"encoding":{"x":{"datum":384},"y":{"field":"v","type":"quantitative"},"text":{"field":"r"}}},
{"data":{"name":"t850"},"mark":{"type":"line","color":"black","strokeWidth":3},"encoding":{"x":{"field":"t","type":"quantitative"},"y":{"field":"gfs","type":"quantitative"}}},
{"data":{"name":"t500"},"mark":{"type":"line","color":"black","strokeWidth":3},"encoding":{"x":{"field":"t","type":"quantitative"},"y":{"field":"gfs","type":"quantitative"}}},
{"data":{"name":"prec"},"transform":[{"filter":"isValid(datum.gfs)"}],"mark":{"type":"line","color":"black","strokeWidth":3},"encoding":{"x":{"field":"t","type":"quantitative"},"y":{"field":"gfs","type":"quantitative"}}},
{"data":{"name":"t850"},"mark":{"type":"line","color":"#0000ff","strokeWidth":3},"encoding":{"x":{"field":"t","type":"quantitative"},"y":{"field":"ctl","type":"quantitative"}}},
{"data":{"name":"t500"},"mark":{"type":"line","color":"#0000ff","strokeWidth":3},"encoding":{"x":{"field":"t","type":"quantitative"},"y":{"field":"ctl","type":"quantitative"}}},
{"data":{"name":"prec"},"transform":[{"filter":"isValid(datum.ctl)"}],"mark":{"type":"line","color":"#0000ff","strokeWidth":3},"encoding":{"x":{"field":"t","type":"quantitative"},"y":{"field":"ctl","type":"quantitative"}}},
{"data":{"name":"t850"},"transform":[{"fold":["03","04","09","11","12","14","17","18","19","20","21","22","23","25","27","28","29","30"],"as":["m","v"]}],"mark":{"type":"line","strokeWidth":1,"point":{"size":6,"filled":true}},"encoding":{"x":{"field":"t","type":"quantitative"},"y":{"field":"v","type":"quantitative"},"color":{"field":"m","type":"nominal","legend":null,"scale":{"domain":["01","02","03","04","05","06","07","08","09","10","11","12","13","14","15","16","17","18","19","20","21","22","23","24","25","26","27","28","29","30"],"range":["#e8812f","#85c96d","#f2c500","#8a4fa8","#b5540f","#548a0a","#0a84f5","#e8d6ac","#3a8fb7","#e8a850","#6b5320","#fa6818","#d0bf75","#0cd85c","#1f4a63","#667580","#dd6ffa","#7a20f0","#7d5f2a","#30056f","#f2d800","#2360a0","#90581f","#9b85ea","#a8fa30","#d070d0","#1c0a9a","#e0cda8","#800808","#0838b0"]}}}},
{"data":{"name":"t500"},"transform":[{"fold":["02","03","04","06","09","11","12","14","15","17","18","24","27","28","30"],"as":["m","v"]}],"mark":{"type":"line","strokeWidth":1,"point":{"size":6,"filled":true}},"encoding":{"x":{"field":"t","type":"quantitative"},"y":{"field":"v","type":"quantitative"},"color":{"field":"m","type":"nominal","legend":null}}},
{"data":{"name":"prec"},"transform":[{"fold":["02","04","05","06","09","10","11","12","13","14","15","17","20","21","22","23","24","26","27","28"],"as":["m","v"]},{"filter":"isValid(datum.v)"}],"mark":{"type":"line","strokeWidth":1,"point":{"size":6,"filled":true}},"encoding":{"x":{"field":"t","type":"quantitative"},"y":{"field":"v","type":"quantitative"},"color":{"field":"m","type":"nominal","legend":null}}},
{"data":{"name":"t850"},"mark":{"type":"line","color":"#ff0000","strokeWidth":4},"encoding":{"x":{"field":"t","type":"quantitative"},"y":{"field":"moy","type":"quantitative"}}},
{"data":{"name":"t500"},"mark":{"type":"line","color":"#ff0000","strokeWidth":4},"encoding":{"x":{"field":"t","type":"quantitative"},"y":{"field":"moy","type":"quantitative"}}},
{"data":{"name":"prec"},"mark":{"type":"line","color":"#ff0000","strokeWidth":3},"encoding":{"x":{"field":"t","type":"quantitative"},"y":{"field":"moy","type":"quantitative"}}},
{"data":{"values":[{"m":"01"},{"m":"02"},{"m":"03"},{"m":"04"},{"m":"05"},{"m":"06"},{"m":"07"},{"m":"08"},{"m":"09"},{"m":"10"},{"m":"11"},{"m":"12"},{"m":"13"},{"m":"14"},{"m":"15"},{"m":"16"},{"m":"17"},{"m":"18"},{"m":"19"},{"m":"20"},{"m":"21"},{"m":"22"},{"m":"23"},{"m":"24"},{"m":"25"},{"m":"26"},{"m":"27"},{"m":"28"},{"m":"29"},{"m":"30"}]},"layer":[
{"mark":{"type":"point","shape":"M-1,-0.57H1V0.57H-1Z","filled":true,"size":100,"opacity":1},"encoding":{"x":{"datum":213},"xOffset":{"field":"m","type":"nominal","scale":{"type":"point","range":[0,319]}},"y":{"datum":-60.3},"color":{"field":"m","type":"nominal","legend":null}}},
{"mark":{"type":"text","fontSize":8,"align":"center"},"encoding":{"x":{"datum":213},"xOffset":{"field":"m","type":"nominal","scale":{"type":"point","range":[0,319]}},"y":{"datum":-59.1},"text":{"field":"m"}}}
]},
{"mark":{"type":"rect","fill":null,"stroke":"black","strokeWidth":1.5},"encoding":{"x":{"datum":-18},"x2":{"datum":234.6},"y":{"datum":-62.29},"y2":{"datum":-66.86}}},
{"mark":{"type":"rule","color":"#ff0000","strokeWidth":4},"encoding":{"x":{"datum":-9},"x2":{"datum":9.6},"y":{"datum":-58}}},
{"mark":{"type":"rule","color":"#0000ff","strokeWidth":4},"encoding":{"x":{"datum":105},"x2":{"datum":123.6},"y":{"datum":-58}}},
{"mark":{"type":"rule","color":"black","strokeWidth":4},"encoding":{"x":{"datum":105},"x2":{"datum":123.6},"y":{"datum":-59.43}}},
{"mark":{"type":"text","text":"Temp. 850hPa"},"encoding":{"x":{"datum":5.4},"y":{"datum":23.14}}},
{"mark":{"type":"text","text":"Temp. 500hPa"},"encoding":{"x":{"datum":5.4},"y":{"datum":-5.86}}},
{"mark":{"type":"text","text":"Précipitations"},"encoding":{"x":{"datum":5.4},"y":{"datum":-42.43}}},
{"mark":{"type":"text","text":"(°C)"},"encoding":{"x":{"datum":-18},"y":{"datum":-53.57}}},
{"mark":{"type":"text","text":"(mm)"},"encoding":{"x":{"datum":396},"y":{"datum":-53.57}}},
{"mark":{"type":"text","text":"Alt. 64m"},"encoding":{"x":{"datum":-24},"y":{"datum":-56}}},
{"mark":{"type":"text","text":"Moyenne des scénarios"},"encoding":{"x":{"datum":14.4},"y":{"datum":-58}}},
{"mark":{"type":"text","text":"Run de contrôle"},"encoding":{"x":{"datum":128.4},"y":{"datum":-58}}},
{"mark":{"type":"text","text":"Run GFS"},"encoding":{"x":{"datum":128.4},"y":{"datum":-59.43}}},
{"mark":{"type":"text","text":"30 Perts."},"encoding":{"x":{"datum":174},"y":{"datum":-60.14}}},
{"mark":{"type":"text","text":"❄","font":"DejaVu Sans","fontSize":14,"align":"center","color":"#5aaee8"},"encoding":{"x":{"datum":6},"y":{"datum":-61.14}}},
{"mark":{"type":"text","text":"Risque neige"},"encoding":{"x":{"datum":14.4},"y":{"datum":-61.14}}},
{"mark":{"type":"text","text":"Diagramme des ensembles GEFS sur 384h : 39.9N 0.5W","fontWeight":"bold","fontSize":11.6},"encoding":{"x":{"datum":-12.6},"y":{"datum":-63.71}}},
{"mark":{"type":"text","text":"Températures 850hPa et 500hPa (°C) , précipitations (mm)"},"encoding":{"x":{"datum":-12.6},"y":{"datum":-65.86}}},
{"mark":{"type":"text","text":"Ensemble GEFS du 26/08/2026 - 00Z"},"encoding":{"x":{"datum":239.4},"y":{"datum":-63.43}}},
{"mark":{"type":"text","text":"Copyright 2026 Meteociel.fr","fontWeight":"bold","fontSize":11.6},"encoding":{"x":{"datum":239.4},"y":{"datum":-65.86}}}
]}
